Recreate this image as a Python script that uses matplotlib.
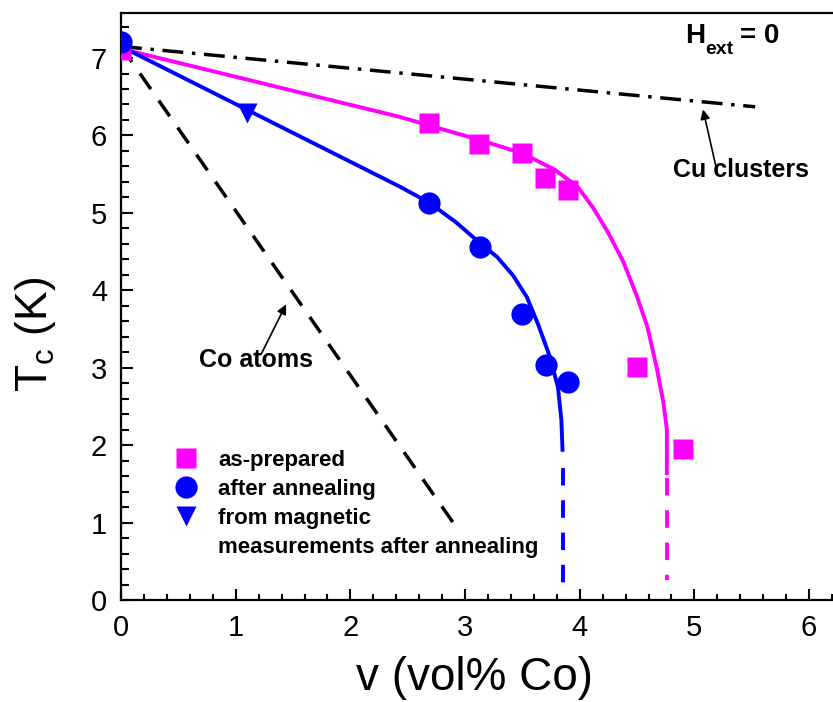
import numpy as np
import matplotlib
matplotlib.use("Agg")
import matplotlib.pyplot as plt
from matplotlib.lines import Line2D
from matplotlib.ticker import MultipleLocator

plt.rcParams["font.family"] = ["Liberation Sans", "DejaVu Sans"]
plt.rcParams["mathtext.fontset"] = "custom"
plt.rcParams["mathtext.rm"] = "Liberation Sans"
plt.rcParams["mathtext.bf"] = "Liberation Sans:bold"
plt.rcParams["mathtext.it"] = "Liberation Sans:italic"

# ── Data ──────────────────────────────────────────────────────────────────────
v_prep  = [0.0, 2.69, 3.12, 3.50, 3.70, 3.90, 4.50, 4.90]
tc_prep = [7.10, 6.16, 5.89, 5.77, 5.45, 5.29, 3.01, 1.95]

v_ann  = [0.0, 2.69, 3.13, 3.50, 3.71, 3.90]
tc_ann = [7.21, 5.13, 4.56, 3.69, 3.04, 2.82]

v_mag  = [1.10]
tc_mag = [6.29]

# fitted curves (solid part) and their dashed continuation down to Tc = 0
fit_prep_v  = [0.0, 2.43, 3.13, 3.50, 3.78, 3.98, 4.12, 4.25, 4.38, 4.50,
               4.59, 4.67, 4.73, 4.76, 4.76]
fit_prep_tc = [7.12, 6.24, 5.94, 5.77, 5.56, 5.34, 5.06, 4.74, 4.37, 3.92,
               3.53, 3.01, 2.55, 2.20, 1.64]
ext_prep_v  = [4.76, 4.76]
ext_prep_tc = [1.58, 0.26]

fit_ann_v  = [0.0, 2.43, 2.69, 2.92, 3.13, 3.28, 3.42, 3.54, 3.64, 3.74,
              3.81, 3.84, 3.85]
fit_ann_tc = [7.15, 5.34, 5.13, 4.88, 4.61, 4.43, 4.19, 3.91, 3.55, 3.14,
              2.75, 2.33, 1.94]
ext_ann_v  = [3.85, 3.85]
ext_ann_tc = [1.70, 0.09]

# model lines
cu_v  = [0.0, 5.53]
cu_tc = [7.15, 6.37]
co_v  = [0.0, 2.91]
co_tc = [7.15, 0.97]

MAGENTA = "#FF00FF"
BLUE    = "#0000FF"

fig = plt.figure(figsize=(8.33, 7.02), dpi=100)
ax = fig.add_axes([0.1453, 0.1453, 0.881, 0.836])

# model lines
ax.plot(cu_v, cu_tc, color="black", lw=2.5, dashes=(6, 2.5, 1, 2.5), zorder=2)
ax.plot(co_v, co_tc, color="black", lw=2.5, dashes=(5.5, 4), zorder=2)

# fits
ax.plot(fit_prep_v, fit_prep_tc, color=MAGENTA, lw=2.8, zorder=3,
        solid_joinstyle="round")
ax.plot(ext_prep_v, ext_prep_tc, color=MAGENTA, lw=2.8, dashes=(4.5, 3.8),
        zorder=3)
ax.plot(fit_ann_v, fit_ann_tc, color=BLUE, lw=2.8, zorder=3,
        solid_joinstyle="round")
ax.plot(ext_ann_v, ext_ann_tc, color=BLUE, lw=2.8, dashes=(4.5, 3.8),
        zorder=3)

# data points
ax.plot(v_prep, tc_prep, "s", color=MAGENTA, ms=14, mec="none", zorder=4)
ax.plot(v_ann, tc_ann, "o", color=BLUE, ms=16, mec="none", zorder=5)
ax.plot(v_mag, tc_mag, "v", color=BLUE, ms=15, mec="none", zorder=5)

# annotations
arrow_kw = dict(arrowstyle="-|>", color="black", lw=1.2, mutation_scale=14)
ax.annotate("", xy=(5.07, 6.37), xytext=(5.20, 5.52), arrowprops=arrow_kw)
ax.text(5.41, 5.56, "Cu clusters", fontsize=18, fontweight="bold",
        ha="center", va="center")
ax.annotate("", xy=(1.45, 3.85), xytext=(1.21, 3.14), arrowprops=arrow_kw)
ax.text(1.18, 3.10, "Co atoms", fontsize=18, fontweight="bold",
        ha="center", va="center")

# H_ext = 0 (Origin-style deep subscript)
ax.text(4.92, 7.20, "H", fontsize=20, fontweight="bold", va="baseline")
ax.annotate("ext", xy=(4.92, 7.20), xytext=(14.4, -8.6),
            textcoords="offset points", fontsize=14, fontweight="bold",
            va="baseline")
ax.annotate("= 0", xy=(4.92, 7.20), xytext=(39.6, 0),
            textcoords="offset points", fontsize=20, fontweight="bold",
            va="baseline")

# legend
handles = [
    Line2D([], [], ls="none", marker="s", color=MAGENTA, ms=14, mec="none"),
    Line2D([], [], ls="none", marker="o", color=BLUE, ms=16, mec="none"),
    Line2D([], [], ls="none", marker="v", color=BLUE, ms=15, mec="none"),
    Line2D([], [], ls="none"),
]
labels = ["as-prepared", "after annealing", "from magnetic",
          "measurements after annealing"]
leg = ax.legend(handles, labels, loc="upper left", bbox_to_anchor=(0.47, 1.94),
                bbox_transform=ax.transData, frameon=False, borderpad=0,
                borderaxespad=0, handlelength=1.0, handletextpad=0.95,
                labelspacing=0.36, prop=dict(size=16, weight="bold"))

# axes
ax.set_xlim(0, 6.4)
ax.set_ylim(0, 7.58)
ax.xaxis.set_major_locator(MultipleLocator(1))
ax.xaxis.set_minor_locator(MultipleLocator(0.2))
ax.yaxis.set_major_locator(MultipleLocator(1))
ax.yaxis.set_minor_locator(MultipleLocator(0.2))
ax.tick_params(which="both", direction="in", width=1.5, labelsize=21, pad=10)
ax.tick_params(axis="x", which="major", length=8)
ax.tick_params(axis="x", which="minor", length=4)
ax.tick_params(axis="y", which="major", length=8.5)
ax.tick_params(axis="y", which="minor", length=5.5)
for sp in ax.spines.values():
    sp.set_linewidth(1.6)

ax.set_xlabel("v (vol% Co)", fontsize=33)
ax.set_ylabel(r"T$_{\rm c}$ (K)", fontsize=32)
ax.xaxis.set_label_coords(0.481, -0.095)
ax.yaxis.set_label_coords(-0.086, 0.453)

fig.savefig("out.png", dpi=100)
